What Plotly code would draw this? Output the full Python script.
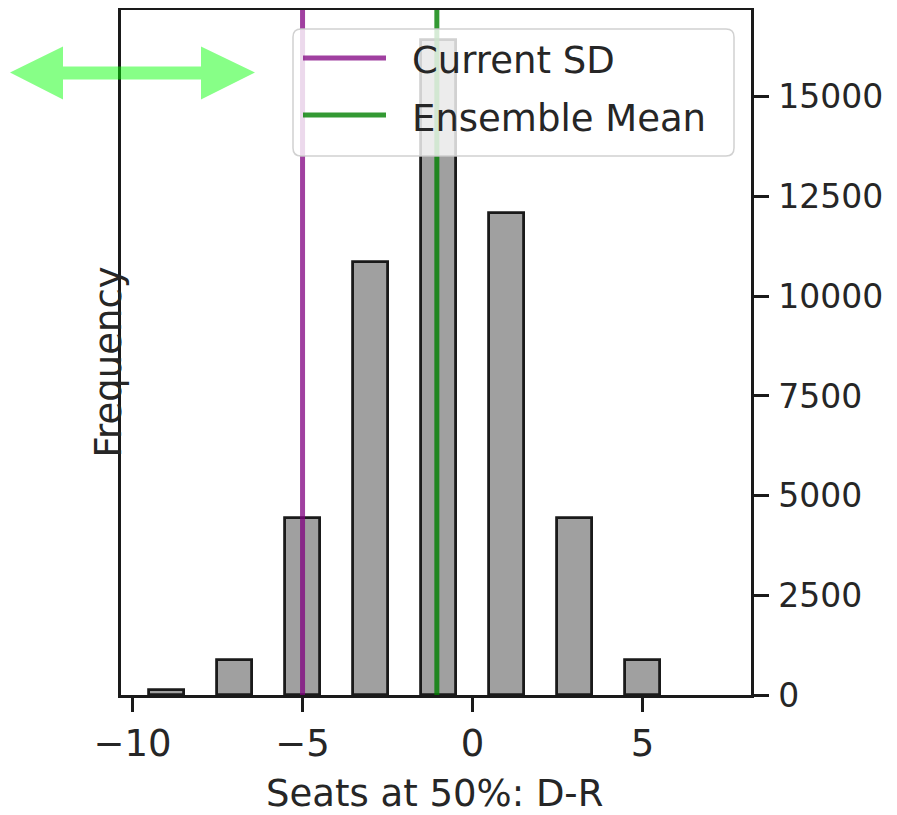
import plotly.graph_objects as go

# ---- data ----
seat_centers = [-9, -7, -5, -3, -1, 1, 3, 5]
frequencies = [120, 880, 4440, 10850, 16420, 12080, 4440, 880]
current_sd = -5.0
ensemble_mean = -1.05
x_ticks = [-10, -5, 0, 5]
x_tick_text = ["\u221210", "\u22125", "0", "5"]
y_ticks = [0, 2500, 5000, 7500, 10000, 12500, 15000]
legend_names = ["Current SD", "Ensemble Mean"]

W, H = 897, 815
OFF = 8  # default page body margin
L, R, T, B = 121, 751, 10, 695  # plot area in viewport pixels

def px(x):
    return (x - L) / (R - L)

def py(y):
    return (B - y) / (B - T)

FONT = "DejaVu Sans"
TXT = "#262626"
FS = 37
PURPLE = "rgba(128,0,128,0.75)"
GREEN = "rgba(0,128,0,0.8)"

fig = go.Figure()
fig.add_trace(go.Bar(
    x=seat_centers, y=frequencies, width=1.04,
    marker=dict(color="#a0a0a0", line=dict(color="#1a1a1a", width=2.8)),
    showlegend=False, hoverinfo="x+y",
))

fig.add_vline(x=current_sd, line=dict(color=PURPLE, width=5), layer="above")
fig.add_vline(x=ensemble_mean, line=dict(color=GREEN, width=5), layer="above")

# legend box (rounded) drawn over the plot
x0, x1, y0, y1, r = 293, 734, 29, 156, 8
pts = [
    ("M", x0 + r, y0), ("L", x1 - r, y0), ("Q", x1, y0, x1, y0 + r),
    ("L", x1, y1 - r), ("Q", x1, y1, x1 - r, y1), ("L", x0 + r, y1),
    ("Q", x0, y1, x0, y1 - r), ("L", x0, y0 + r), ("Q", x0, y0, x0 + r, y0),
]
segs = []
for p in pts:
    cmd = p[0]
    coords = p[1:]
    cs = " ".join(f"{px(coords[i]):.5f},{py(coords[i+1]):.5f}" for i in range(0, len(coords), 2))
    segs.append(f"{cmd} {cs}")
fig.add_shape(type="path", path=" ".join(segs) + " Z", xref="paper", yref="paper",
              fillcolor="rgba(255,255,255,0.8)", line=dict(color="rgba(204,204,204,0.9)", width=1.5),
              layer="above")
for name, col, yy in zip(legend_names, [PURPLE, GREEN], [58, 115]):
    fig.add_shape(type="line", x0=px(303), x1=px(386), y0=py(yy), y1=py(yy),
                  xref="paper", yref="paper", line=dict(color=col, width=5), layer="above")
    fig.add_annotation(text=name, x=px(410), y=py(yy + 3), xref="paper", yref="paper",
                       xanchor="left", yanchor="middle", showarrow=False,
                       font=dict(family=FONT, size=FS, color=TXT))

# decorative double arrow (top-left)
ax = [10, 63, 63, 201, 201, 255, 201, 201, 63, 63]
ay = [72.5, 46.5, 66.5, 66.5, 46.5, 72.5, 99.5, 79.5, 79.5, 99.5]
path = "M " + " L ".join(f"{px(a):.5f},{py(b):.5f}" for a, b in zip(ax, ay)) + " Z"
fig.add_shape(type="path", path=path, xref="paper", yref="paper",
              fillcolor="rgba(0,255,0,0.47)", line=dict(width=0), layer="above")

fig.add_annotation(text="Frequency", x=px(84), y=py(362), xref="paper", yref="paper",
                   textangle=-90, showarrow=False, font=dict(family=FONT, size=FS, color=TXT))
fig.add_annotation(text="Seats at 50%: D-R", x=px(434), y=py(793), xref="paper", yref="paper",
                   yanchor="middle", showarrow=False, font=dict(family=FONT, size=FS, color=TXT))

fig.update_layout(
    width=W - OFF, height=H - OFF,
    margin=dict(l=L - OFF, r=W - R, t=T - OFF, b=H - B, pad=0, autoexpand=False),
    plot_bgcolor="white", paper_bgcolor="white",
    bargap=0, showlegend=False,
    font=dict(family=FONT, size=FS, color=TXT),
    xaxis=dict(range=[-10.34, 8.19], tickvals=x_ticks, ticktext=x_tick_text,
               ticks="outside", ticklen=14, tickwidth=2.5, tickcolor="#1a1a1a",
               showline=True, linecolor="#1a1a1a", linewidth=2.5, mirror=True,
               showgrid=False, zeroline=False, automargin=False,
               tickfont=dict(family=FONT, size=FS, color=TXT)),
    yaxis=dict(range=[0, 17180], tickvals=y_ticks, ticktext=[str(v) for v in y_ticks],
               side="right",
               ticks="outside", ticklen=15, tickwidth=2.5, tickcolor="#1a1a1a",
               ticklabelstandoff=3, automargin=False,
               showline=True, linecolor="#1a1a1a", linewidth=2.5, mirror=True,
               showgrid=False, zeroline=False,
               tickfont=dict(family=FONT, size=33, color=TXT)),
)

fig.write_html("out.html")
